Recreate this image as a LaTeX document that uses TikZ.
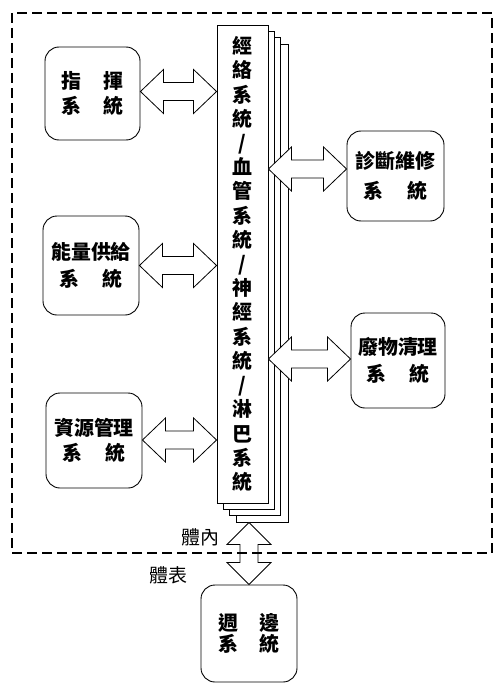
\documentclass[tikz,border=0pt]{standalone}
\usepackage{fontspec}
\newfontfamily\cjk{Noto Sans CJK TC}
\usetikzlibrary{calc}
\newcommand\hbiarrow[2]{\draw[barrow] let \p1=#1, \p2=#2 in
  (\x1,\y1) -- ++(23bp,22bp) -- ++(0,-13bp) -- ({\x2-23bp},{\y1+9bp}) -- ++(0,13bp)
  -- (\x2,\y1) -- ++(-23bp,-22bp) -- ++(0,13bp) -- ({\x1+23bp},{\y1-9bp}) -- ++(0,-13bp) -- cycle;}
\newcommand\vbiarrow[2]{\draw[barrow] let \p1=#1, \p2=#2 in
  (\x1,\y1) -- ++(22bp,-22bp) -- ++(-13bp,0) -- ({\x1+9bp},{\y2+22bp}) -- ++(13bp,0)
  -- (\x1,\y2) -- ++(-22bp,22bp) -- ++(13bp,0) -- ({\x1-9bp},{\y1-22bp}) -- ++(-13bp,0) -- cycle;}
\begin{document}
\begin{tikzpicture}[x=1bp,y=-1bp,
  box/.style={draw, line width=0.9bp, rounded corners=14bp, align=center, inner sep=0,
    font=\cjk\bfseries\fontsize{20}{26}\selectfont},
  layer/.style={draw, fill=white, line width=0.9bp, minimum width=51bp, minimum height=478bp, inner sep=0},
  barrow/.style={draw, fill=white, line width=0.8bp, line join=miter},
  lbl/.style={font=\cjk\fontsize{19}{19}\selectfont, inner sep=0}
]
\useasboundingbox (0,0) rectangle (504,696);
\fill[white] (0,0) rectangle (504,696);
% stacked column
\node[layer, minimum width=52bp] (L4) at (262,283) {};
\node[layer] (L3) at (255,276.5) {};
\node[layer] (L2) at (248.5,270.5) {};
\node[layer, align=center, font=\cjk\bfseries\fontsize{20}{24.3}\selectfont] (F) at (242.5,264)
  {經\\絡\\系\\統\\/\\血\\管\\系\\統\\/\\神\\經\\系\\統\\/\\淋\\巴\\系\\統};
% boxes
\node[box, minimum width=95bp, minimum height=93bp] (b1) at (92.5,93.5)
  {指\hspace{22bp}揮\\[-1bp]系\hspace{22bp}統};
\node[box, minimum width=96bp, minimum height=99bp] (b2) at (91,265.5)
  {能量供給\\[1bp]系\hspace{24bp}統};
\node[box, minimum width=96bp, minimum height=95bp] (b3) at (94,440.5)
  {資源管理\\[-1bp]系\hspace{24bp}統};
\node[box, minimum width=97bp, minimum height=90bp] (r1) at (395.5,176)
  {診斷維修\\[4bp]系\hspace{24bp}統};
\node[box, minimum width=94bp, minimum height=95bp] (r2) at (398,360.5)
  {廢物清理\\[1bp]系\hspace{24bp}統};
\node[box, minimum width=96bp, minimum height=97bp, font=\cjk\bfseries\fontsize{20}{21}\selectfont] (peri) at (249,633.5)
  {週\hspace{21bp}邊\\系\hspace{21bp}統};
% arrow levels
\coordinate (a1) at (0,91.5);
\coordinate (a2) at (0,265.5);
\coordinate (a3) at (0,440);
\coordinate (a4) at (0,169);
\coordinate (a5) at (0,359);
\hbiarrow{(b1.east |- a1)}{(F.west |- a1)}
\hbiarrow{(b2.east |- a2)}{(F.west |- a2)}
\hbiarrow{(b3.east |- a3)}{(F.west |- a3)}
\hbiarrow{(F.east |- a4)}{(r1.west |- a4)}
\hbiarrow{(F.east |- a5)}{(r2.west |- a5)}
\vbiarrow{(peri.north |- L4.south)}{(peri.north)}
% labels
\node[lbl] (inner) at (200,537) {體內};
\node[lbl] (outer) at (168,575) {體表};
% dashed frame
\draw[line width=2bp, dash pattern=on 10bp off 5bp] (12,13) rectangle (492,553);
\end{tikzpicture}
\end{document}
